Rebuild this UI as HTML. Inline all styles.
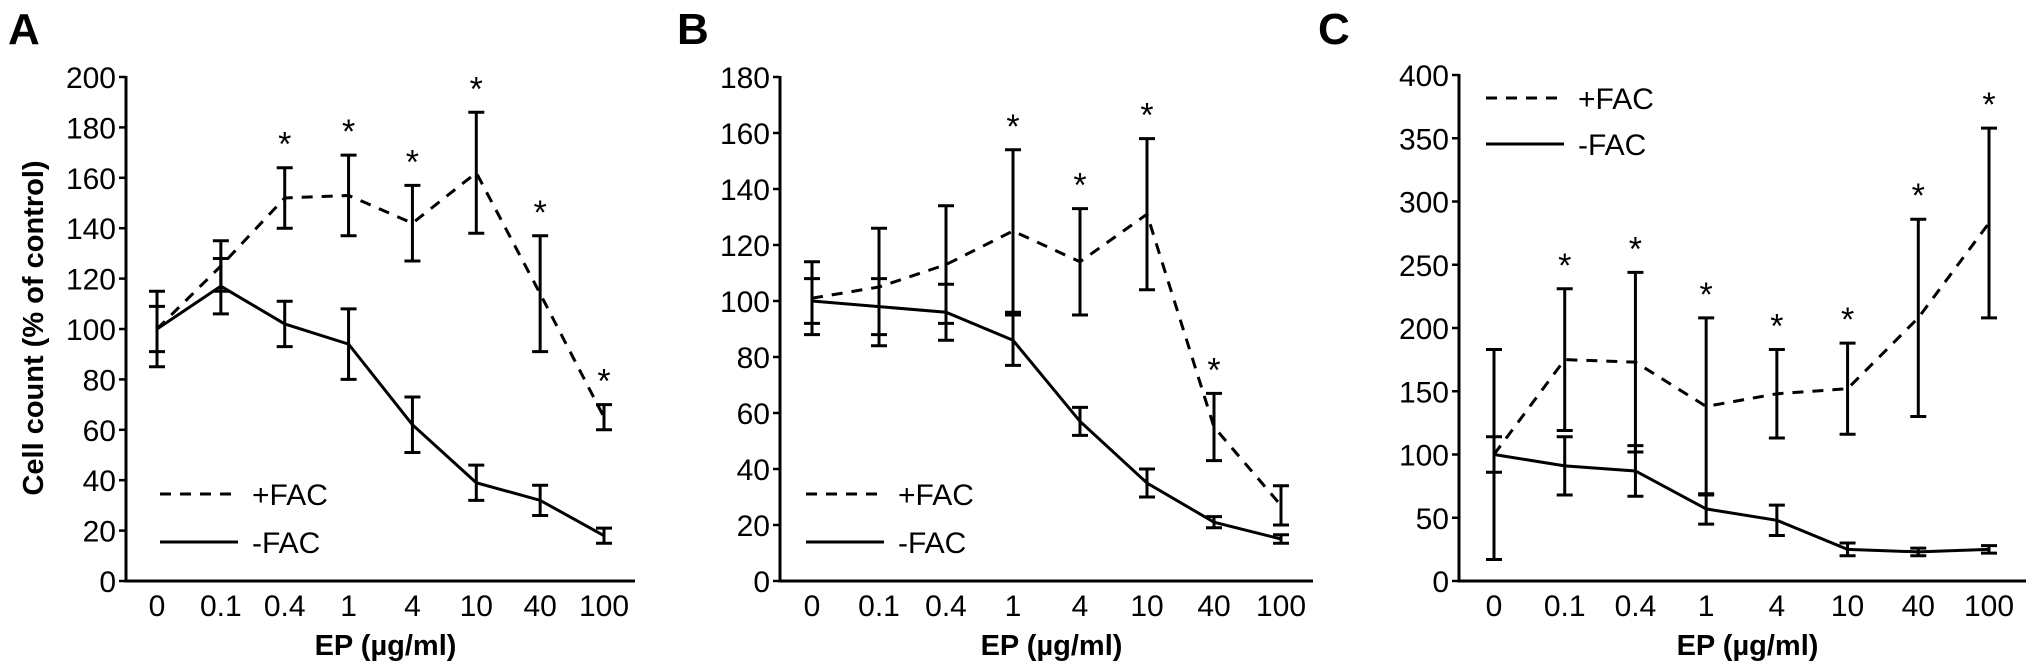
<!DOCTYPE html>
<html><head><meta charset="utf-8"><style>
html,body{margin:0;padding:0;background:#fff;}
svg{display:block;font-family:"Liberation Sans",Arial,sans-serif;}
</style></head><body>
<svg id="fig" width="2031" height="671" viewBox="0 0 2031 671" xmlns="http://www.w3.org/2000/svg"></svg>
<script>
const categories = ["0","0.1","0.4","1","4","10","40","100"];
const aPlus = [100,125,152,153,142,162,114,65];
const aPlusErr = [9,10,12,16,15,24,23,5];
const aMinus = [100,117,102,94,62,39,32,18];
const aMinusErr = [15,11,9,14,11,7,6,3];
const aStars = [2,3,4,5,6,7];
const aTicks = [0,20,40,60,80,100,120,140,160,180,200];
const bPlus = [101,105,113,125,114,131,55,27];
const bPlusErr = [13,21,21,29,19,27,12,7];
const bMinus = [100,98,96,86,57,35,21,15];
const bMinusErr = [8,10,10,9,5,5,2,1.5];
const bStars = [3,4,5,6];
const bTicks = [0,20,40,60,80,100,120,140,160,180];
const cPlus = [100,175,173,138,148,152,208,283];
const cPlusErr = [14,56,71,70,35,36,78,75];
const cMinus = [100,91,87,57,48,25,23,25];
const cMinusErr = [83,23,20,12,12,5,3,3];
const cStars = [1,2,3,4,5,6,7];
const cTicks = [0,50,100,150,200,250,300,350,400];

const NS="http://www.w3.org/2000/svg";
const svg=document.getElementById('fig');
function mk(tag,attrs,parent){const e=document.createElementNS(NS,tag);for(const k in attrs)e.setAttribute(k,attrs[k]);(parent||svg).appendChild(e);return e;}

const panels=[
 {id:'a',letter:'A',lx:8,ax:126,x0:157,x1:604,xe:635,ymax:200,yTop:77,ticks:aTicks,plus:aPlus,pe:aPlusErr,minus:aMinus,me:aMinusErr,stars:aStars,legX:160,legY:[494,542]},
 {id:'b',letter:'B',lx:677,ax:780,x0:812,x1:1281,xe:1313,ymax:180,yTop:77,ticks:bTicks,plus:bPlus,pe:bPlusErr,minus:bMinus,me:bMinusErr,stars:bStars,legX:806,legY:[494,542]},
 {id:'c',letter:'C',lx:1318,ax:1459,x0:1494,x1:1989,xe:2026,ymax:400,yTop:75,ticks:cTicks,plus:cPlus,pe:cPlusErr,minus:cMinus,me:cMinusErr,stars:cStars,legX:1486,legY:[98,144]}
];
const yBot=581;
panels.forEach(p=>{
 const g=mk('g',{});
 
 
 const xs=i=>p.x0+(p.x1-p.x0)*i/(categories.length-1);
 const ys=v=>yBot-(yBot-p.yTop)*v/p.ymax;
 const lt=mk('text',{x:p.lx,y:44,'font-size':44,'font-weight':'bold'},g);lt.textContent=p.letter;
 
 
 const axes=mk('path',{d:`M${p.ax} ${ys(p.ymax)-1} V${yBot} H${p.xe}`,stroke:'#000','stroke-width':3,fill:'none'},g);
 
 
 p.ticks.forEach(t=>{
  mk('line',{x1:p.ax-7,x2:p.ax,y1:ys(t),y2:ys(t),stroke:'#000','stroke-width':2.5},g);
  const tx=mk('text',{x:p.ax-10,y:ys(t)+11,'font-size':30,'text-anchor':'end'},g);tx.textContent=t;
  
  
 });
 categories.forEach((c,i)=>{
  const tx=mk('text',{x:xs(i),y:616,'font-size':30,'text-anchor':'middle'},g);tx.textContent=c;
  
  
 });
 const xl=mk('text',{x:(p.ax+p.xe)/2+5,y:655,'font-size':29,'font-weight':'bold','text-anchor':'middle'},g);xl.textContent='EP (µg/ml)';
 
 
 [[p.plus,p.pe,true,'plus'],[p.minus,p.me,false,'minus']].forEach(([m,e,dash,nm])=>{
  const pts=m.map((v,i)=>xs(i)+','+ys(v)).join(' ');
  const a={points:pts,fill:'none',stroke:'#000','stroke-width':3};
  if(dash)a['stroke-dasharray']='11 9';
  const pl=mk('polyline',a,g);
  
  
  m.forEach((v,i)=>{
   const x=xs(i),t=ys(v+e[i]),b=ys(v-e[i]);
   const eb=mk('path',{d:`M${x} ${t} V${b} M${x-8} ${t} H${x+8} M${x-8} ${b} H${x+8}`,stroke:'#000','stroke-width':3,fill:'none'},g);
   
   
  });
 });
 p.stars.forEach(i=>{
  const top=ys(p.plus[i]+p.pe[i]);
  const st=mk('text',{x:xs(i),y:top-12,'font-size':34,'text-anchor':'middle'},g);st.textContent='*';
  
  
 });
 ['+FAC','-FAC'].forEach((lab,k)=>{
  const y=p.legY[k];
  const a={x1:p.legX,x2:p.legX+78,y1:y,y2:y,stroke:'#000','stroke-width':3};
  if(k===0)a['stroke-dasharray']='11 9';
  const ln=mk('line',a,g);
  
  
  const tx=mk('text',{x:p.legX+92,y:y+11,'font-size':30},g);tx.textContent=lab;
  
  
 });
});
const yl=mk('text',{x:0,y:0,'font-size':29,'font-weight':'bold','text-anchor':'middle',transform:'translate(43,328) rotate(-90)'});
yl.textContent='Cell count (% of control)';


</script>
</body></html>
